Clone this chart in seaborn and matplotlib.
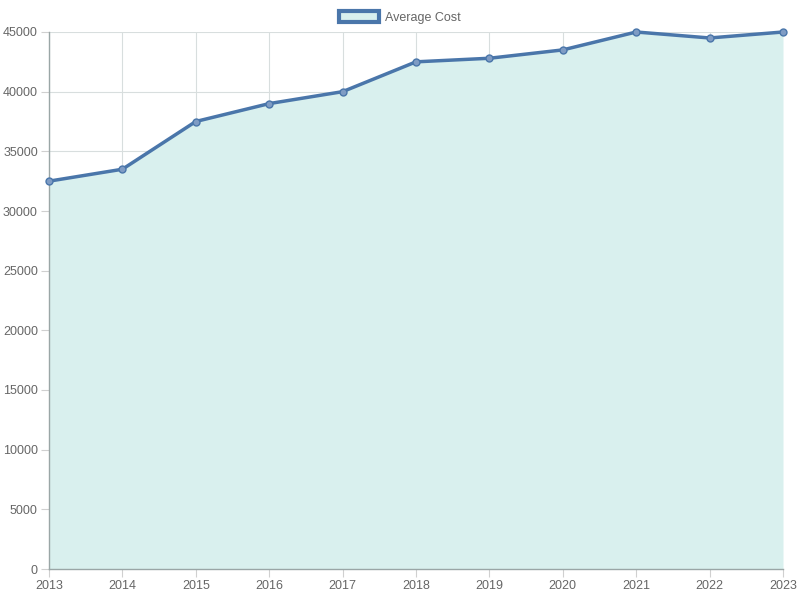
import matplotlib
matplotlib.use('Agg')
import matplotlib.pyplot as plt
import seaborn as sns
import pandas as pd
from matplotlib.patches import Patch

# data
years = [2013, 2014, 2015, 2016, 2017, 2018, 2019, 2020, 2021, 2022, 2023]
avg_cost = [32500, 33500, 37500, 39000, 40000, 42500, 42800, 43500, 45000, 44500, 45000]
series_name = 'Average Cost'

line_color = '#4a76aa'
fill_color = '#d9f0ee'

df = pd.DataFrame({'year': years, 'cost': avg_cost})

sns.set_style('white')
plt.rcParams['font.family'] = ['Liberation Sans', 'DejaVu Sans']

fig = plt.figure(figsize=(8, 6), dpi=100)
ax = fig.add_axes([49 / 800, 31 / 600, 734 / 800, 537 / 600])

ax.fill_between(df['year'], df['cost'], 0, color=fill_color, zorder=1, linewidth=0)
sns.lineplot(data=df, x='year', y='cost', ax=ax, color=line_color, linewidth=2.5,
             marker='o', markersize=5, markerfacecolor='#7f9cc4',
             markeredgecolor=line_color, markeredgewidth=1, zorder=3, clip_on=False)

ax.set_xlim(2013, 2023)
ax.set_ylim(0, 45000)
ax.set_xticks(years)
ax.set_yticks(range(0, 45001, 5000))
ax.set_xlabel('')
ax.set_ylabel('')
ax.grid(True, color='#d8dede', linewidth=0.8)
for line in ax.get_xgridlines() + ax.get_ygridlines():
    line.set_zorder(2)
for s in ['top', 'right']:
    ax.spines[s].set_visible(False)
for s in ['left', 'bottom']:
    ax.spines[s].set_color('#9aa6a6')
    ax.spines[s].set_linewidth(1)
ax.tick_params(axis='both', length=6, color='#d0d0d0', labelcolor='#666666',
               labelsize=9, pad=2, left=True, bottom=True)

handle = Patch(facecolor=fill_color, edgecolor=line_color, linewidth=3)
fig.legend([handle], [series_name], loc='upper center', bbox_to_anchor=(0.5, 1.0),
           frameon=False, fontsize=9, labelcolor='#666666',
           handlelength=3.2, handleheight=0.9, handletextpad=0.5)

plt.savefig('out.png', dpi=100)
plt.close()
